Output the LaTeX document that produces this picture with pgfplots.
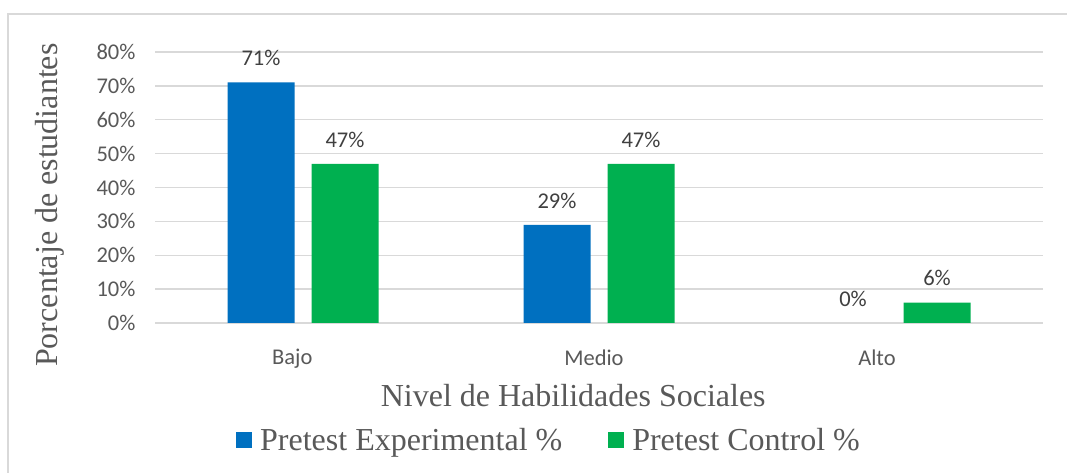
\documentclass[border=0pt]{standalone}
\usepackage{pgfplots}
\pgfplotsset{compat=1.18}
\usepackage{fontspec}
\setmainfont{Liberation Serif}
\newfontfamily\calibri{Carlito}
\definecolor{blueX}{HTML}{0070C0}
\definecolor{greenC}{HTML}{00B050}
\definecolor{gridG}{HTML}{D9D9D9}
\definecolor{txtG}{HTML}{595959}
\definecolor{valG}{HTML}{404040}
\newcommand{\tickfont}{\calibri\fontsize{22.5bp}{26bp}\selectfont}
\newcommand{\titlefont}{\fontsize{32bp}{38bp}\selectfont}
\begin{document}
\begin{tikzpicture}
\useasboundingbox (0,0) rectangle (1067bp,473bp);
\clip (0,0) rectangle (1067bp,473bp);
\fill[white] (0,0) rectangle (1067bp,473bp);
% chart area frame
\draw[gridG, line width=1.5bp] (8bp,-20bp) rectangle (1090bp,459bp);
\begin{axis}[
  at={(155bp,150bp)}, anchor=south west,
  scale only axis, width=888bp, height=271bp,
  xmin=-0.5, xmax=2.5, ymin=0, ymax=80,
  axis line style={draw=none},
  major tick length=0,
  ytick={0,10,...,80},
  yticklabels={0\%,10\%,20\%,30\%,40\%,50\%,60\%,70\%,80\%},
  xtick={-0.036,0.983,1.939},
  xticklabels={Bajo,Medio,Alto},
  ymajorgrids, grid style={gridG, line width=1.3bp},
  tick label style={font=\tickfont, text=txtG},
  yticklabel style={xshift=-16bp},
  xticklabel style={yshift=-23bp},
  /pgf/number format/assume math mode=true,
  ybar, bar width=67bp,
  nodes near coords={\pgfmathprintnumber{\pgfplotspointmeta}\%},
  every node near coord/.append style={font=\tickfont, text=valG, yshift=13bp},
  legend columns=2,
  legend style={at={(0.4437,-0.432)}, anchor=center, draw=none, fill=none,
    font=\titlefont, text=txtG,
    /tikz/every even column/.append style={column sep=44bp}},
  legend image code/.code={\fill[#1] (0bp,-8bp) rectangle (16bp,8bp);
    \path (22bp,0bp);},
  clip=false,
]
\addplot[fill=blueX, draw=none, bar shift=-42bp] coordinates {(0,71) (1,29)};
\addlegendentry{Pretest Experimental \%}
\addplot[fill=greenC, draw=none, bar shift=42bp] coordinates {(0,47) (1,47) (2,6)};
\addlegendentry{Pretest Control \%}
% zero-height bar: only its value label shows
\addplot[fill=none, draw=none, bar shift=-42bp, forget plot] coordinates {(2,0)};
\node[font=\titlefont, text=txtG] at (axis description cs:0.471,-0.266) {Nivel de Habilidades Sociales};
\node[font=\titlefont, text=txtG, rotate=90] at (axis description cs:-0.118,0.435) {Porcentaje de estudiantes};
\end{axis}
\end{tikzpicture}
\end{document}
